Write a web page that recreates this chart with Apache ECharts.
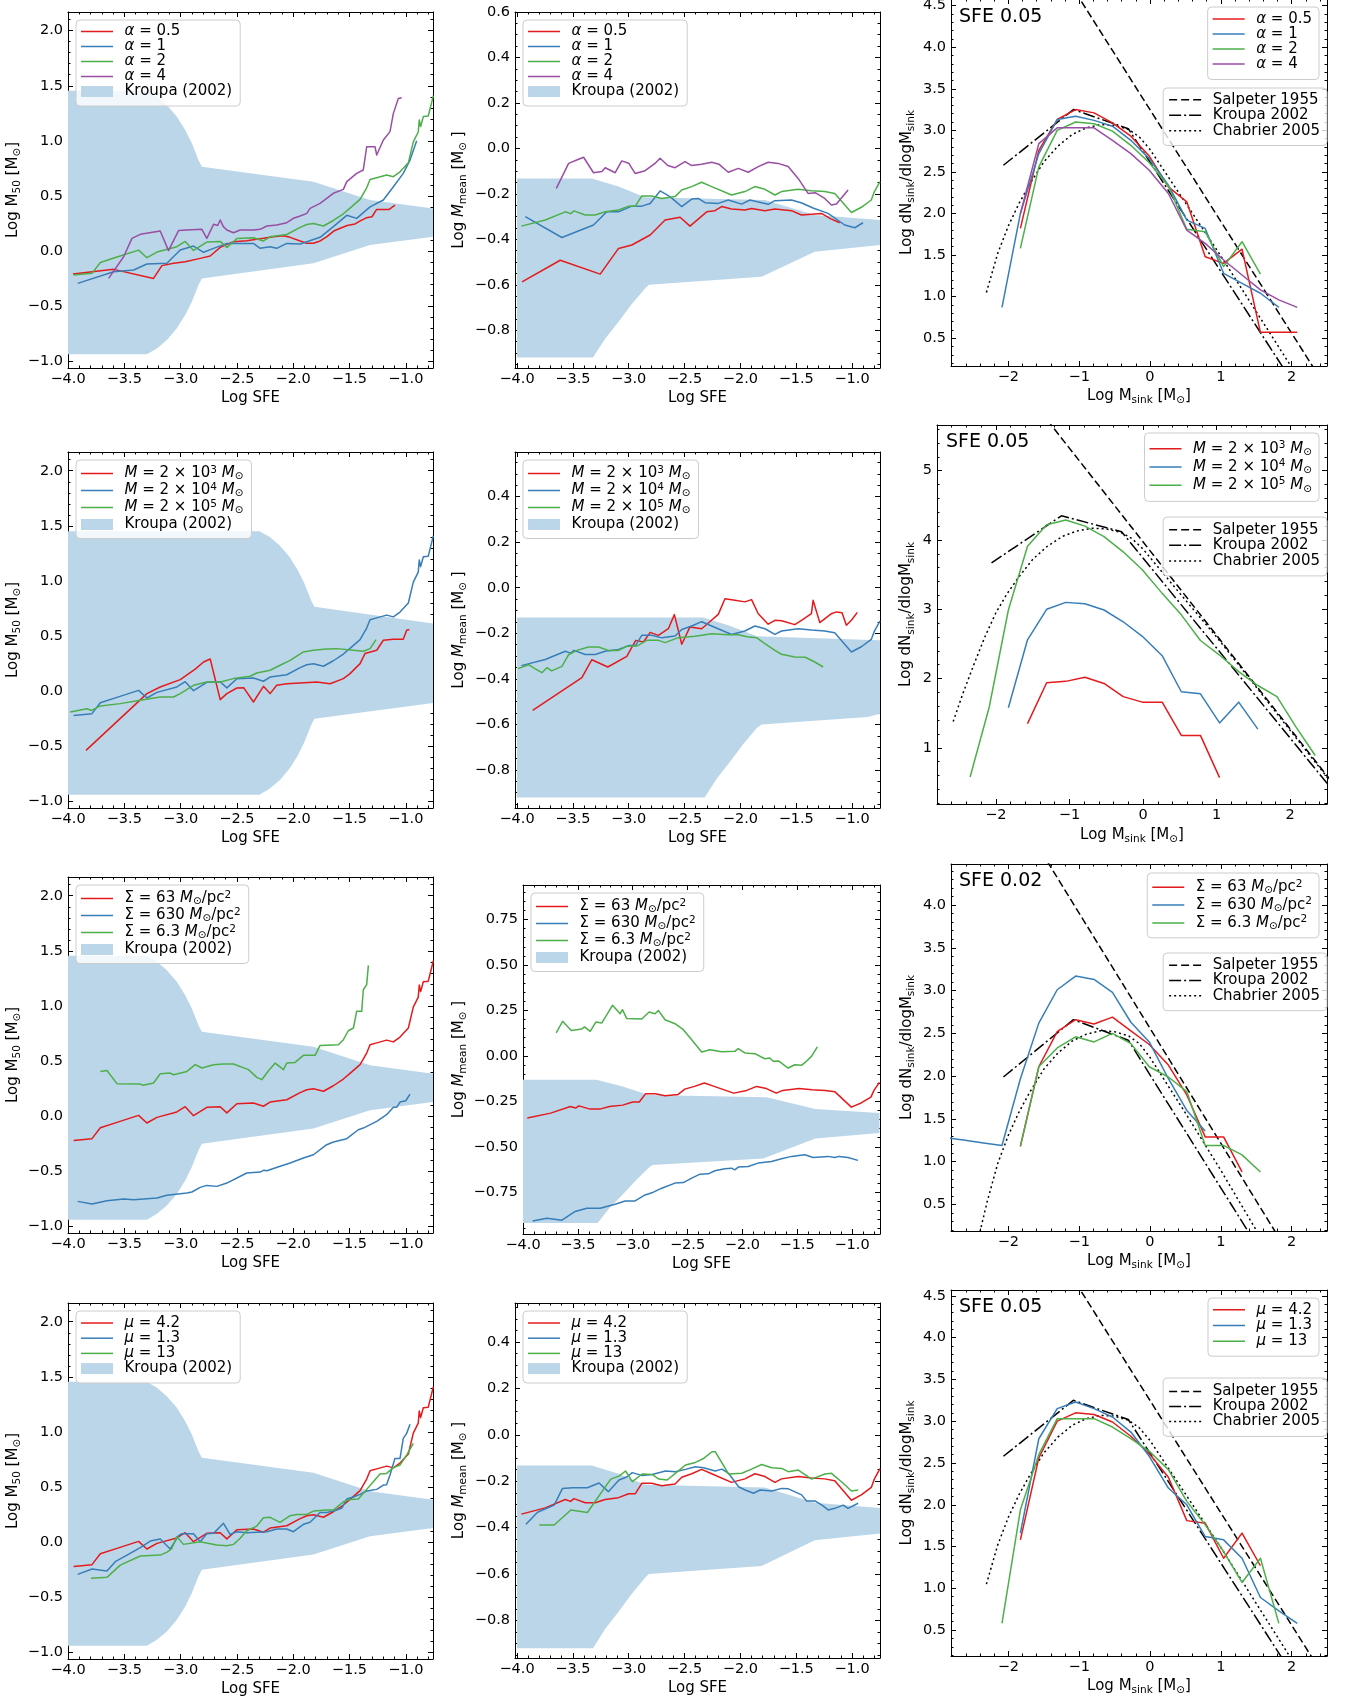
<!DOCTYPE html>
<html><head><meta charset="utf-8">
<script src="https://cdn.jsdelivr.net/npm/echarts@6.0.0/dist/echarts.min.js"></script>
<style>html,body{margin:0;padding:0;background:#fff;}#chart{width:1349px;height:1699px;}</style>
</head><body><div id="chart"></div>
<script>
const _ = null;
// ---------------- tick labels ----------------
const sfeTicks = [-4.0,-3.5,-3.0,-2.5,-2.0,-1.5,-1.0];
const m50Ticks = [-1.0,-0.5,0.0,0.5,1.0,1.5,2.0];
const meanTicks = [-0.8,-0.6,-0.4,-0.2,0.0,0.2,0.4,0.6];
const meanTicksQ = [-0.75,-0.5,-0.25,0.0,0.25,0.5,0.75];
const msinkTicks = [-2,-1,0,1,2];
const imfTicks = [0.5,1.0,1.5,2.0,2.5,3.0,3.5,4.0,4.5];
const imfTicksInt = [1,2,3,4,5];

// ---------------- Kroupa (2002) bands ----------------
const bandM50Up = [[-4.0,1.455],[-3.299,1.455],[-3.21,1.401],[-3.122,1.325],[-3.033,1.219],[-2.959,1.098],[-2.9,0.977],[-2.841,0.825],[-2.811,0.765],[-1.82,0.629],[-1.317,0.462],[-0.758,0.384]];
const bandM50Lo = [[-4.0,-0.94],[-3.299,-0.94],[-3.21,-0.886],[-3.122,-0.81],[-3.033,-0.704],[-2.959,-0.583],[-2.9,-0.462],[-2.841,-0.31],[-2.811,-0.25],[-1.82,-0.113],[-1.317,0.053],[-0.758,0.129]];
const bandM50UpB = [[-4.0,1.452],[-2.30,1.452],[-2.21,1.40],[-2.122,1.325],[-2.033,1.219],[-1.959,1.098],[-1.9,0.977],[-1.841,0.825],[-1.811,0.765],[-0.758,0.615]];
const bandM50LoB = [[-4.0,-0.94],[-2.30,-0.94],[-2.21,-0.886],[-2.122,-0.81],[-2.033,-0.704],[-1.959,-0.583],[-1.9,-0.462],[-1.841,-0.31],[-1.811,-0.25],[-0.758,-0.107]];
const bandMeanUp = [[-4.0,-0.132],[-3.33,-0.132],[-3.091,-0.168],[-2.853,-0.215],[-1.78,-0.227],[-1.334,-0.293],[-0.75,-0.315]];
const bandMeanLo = [[-4.0,-0.92],[-3.32,-0.92],[-3.211,-0.837],[-3.091,-0.763],[-2.972,-0.685],[-2.853,-0.616],[-2.82,-0.60],[-1.81,-0.565],[-1.334,-0.455],[-0.75,-0.425]];
const bandMeanUpB = [[-4.0,-0.131],[-2.332,-0.131],[-2.09,-0.168],[-1.85,-0.213],[-0.75,-0.23]];
const bandMeanLoB = [[-4.0,-0.921],[-2.32,-0.921],[-2.211,-0.837],[-2.091,-0.763],[-1.972,-0.685],[-1.853,-0.616],[-1.81,-0.60],[-0.86,-0.567],[-0.75,-0.553]];

// ---------------- M50 vs SFE ----------------
const fidM50 = [[-3.95,-0.22],[-3.787,-0.204],[-3.713,-0.105],[-3.565,-0.056],[-3.373,0.007],[-3.299,-0.062],[-3.21,-0.011],[-3.033,0.038],[-2.959,0.086],[-2.885,0.004],[-2.767,0.08],[-2.648,0.086],[-2.589,0.03],[-2.5,0.113],[-2.353,0.119],[-2.264,0.09],[-2.205,0.128],[-2.057,0.149],[-1.938,0.214],[-1.879,0.24],[-1.82,0.248],[-1.731,0.226],[-1.643,0.276],[-1.554,0.337],[-1.495,0.388],[-1.406,0.468],[-1.347,0.573],[-1.317,0.648],[-1.258,0.665],[-1.17,0.69],[-1.11,0.674],[-1.051,0.718],[-0.977,0.80],[-0.933,0.99],[-0.889,1.08],[-0.88,1.19],[-0.868,1.13],[-0.844,1.22],[-0.80,1.225],[-0.755,1.41]];
const m50A05 = [[-3.956,-0.21],[-3.595,-0.168],[-3.24,-0.25],[-3.166,-0.134],[-3.062,-0.113],[-2.959,-0.098],[-2.826,-0.068],[-2.737,-0.047],[-2.648,0.032],[-2.53,0.084],[-2.412,0.093],[-2.264,0.114],[-2.175,0.129],[-2.086,0.138],[-2.027,0.123],[-1.938,0.09],[-1.88,0.07],[-1.82,0.07],[-1.76,0.09],[-1.70,0.13],[-1.64,0.18],[-1.57,0.21],[-1.52,0.23],[-1.45,0.245],[-1.40,0.275],[-1.35,0.30],[-1.30,0.31],[-1.26,0.375],[-1.15,0.375],[-1.095,0.415]];
const m50A1 = [[-3.914,-0.295],[-3.595,-0.189],[-3.417,-0.174],[-3.299,-0.119],[-3.122,-0.113],[-3.003,0.008],[-2.885,0.044],[-2.796,-0.013],[-2.707,0.023],[-2.589,0.068],[-2.353,0.068],[-2.293,0.023],[-2.205,0.038],[-2.146,0.023],[-2.057,0.068],[-1.938,0.062],[-1.761,0.123],[-1.643,0.22],[-1.524,0.323],[-1.436,0.295],[-1.317,0.40],[-1.199,0.462],[-1.11,0.583],[-1.022,0.704],[-0.962,0.825],[-0.903,1.0]];
const m50A4 = [[-3.639,-0.25],[-3.506,-0.053],[-3.432,0.114],[-3.358,0.15],[-3.181,0.18],[-3.107,0.002],[-3.018,0.184],[-2.944,0.19],[-2.811,0.196],[-2.767,0.114],[-2.707,0.241],[-2.67,0.23],[-2.648,0.28],[-2.62,0.22],[-2.589,0.19],[-2.53,0.165],[-2.471,0.19],[-2.353,0.19],[-2.293,0.196],[-2.234,0.226],[-2.146,0.235],[-2.057,0.256],[-1.998,0.296],[-1.938,0.317],[-1.879,0.341],[-1.85,0.386],[-1.761,0.432],[-1.702,0.477],[-1.643,0.523],[-1.554,0.559],[-1.524,0.629],[-1.436,0.704],[-1.377,0.735],[-1.347,0.946],[-1.273,0.946],[-1.258,0.871],[-1.199,1.007],[-1.14,1.083],[-1.11,1.249],[-1.066,1.385],[-1.036,1.391]];
const m50M3 = [[-3.84,-0.537],[-3.299,-0.022],[-3.181,0.038],[-3.003,0.105],[-2.87,0.2],[-2.796,0.265],[-2.737,0.292],[-2.648,-0.077],[-2.589,-0.022],[-2.5,0.029],[-2.44,0.032],[-2.353,-0.098],[-2.264,0.044],[-2.205,-0.022],[-2.146,0.053],[-2.057,0.068],[-1.938,0.074],[-1.79,0.083],[-1.672,0.068],[-1.554,0.114],[-1.495,0.159],[-1.406,0.25],[-1.362,0.341],[-1.258,0.371],[-1.199,0.462],[-1.11,0.471],[-1.022,0.471],[-0.992,0.553],[-0.968,0.559]];
const m50M5 = [[-3.98,-0.189],[-3.831,-0.159],[-3.79,-0.175],[-3.713,-0.134],[-3.536,-0.113],[-3.358,-0.083],[-3.181,-0.053],[-3.062,-0.053],[-3.003,-0.022],[-2.885,0.053],[-2.767,0.084],[-2.648,0.084],[-2.53,0.114],[-2.382,0.135],[-2.323,0.165],[-2.205,0.19],[-2.116,0.235],[-2.027,0.28],[-1.909,0.356],[-1.82,0.371],[-1.702,0.383],[-1.613,0.386],[-1.465,0.371],[-1.377,0.362],[-1.317,0.386],[-1.264,0.468]];
const m50S630 = [[-3.914,-0.773],[-3.787,-0.797],[-3.654,-0.767],[-3.506,-0.752],[-3.417,-0.758],[-3.21,-0.743],[-3.122,-0.718],[-2.944,-0.697],[-2.9,-0.688],[-2.826,-0.646],[-2.767,-0.628],[-2.678,-0.637],[-2.589,-0.607],[-2.412,-0.516],[-2.293,-0.507],[-2.26,-0.49],[-2.234,-0.495],[-2.116,-0.455],[-2.027,-0.425],[-1.909,-0.38],[-1.82,-0.35],[-1.702,-0.259],[-1.643,-0.235],[-1.524,-0.204],[-1.421,-0.123],[-1.377,-0.108],[-1.258,-0.047],[-1.17,0.013],[-1.11,0.08],[-1.081,0.08],[-1.051,0.128],[-1.0,0.14],[-0.962,0.2]];
const m50S6 = [[-3.713,0.406],[-3.654,0.415],[-3.565,0.295],[-3.358,0.292],[-3.334,0.28],[-3.24,0.301],[-3.181,0.385],[-3.092,0.391],[-3.062,0.376],[-2.944,0.406],[-2.87,0.467],[-2.811,0.437],[-2.707,0.467],[-2.619,0.473],[-2.53,0.473],[-2.397,0.422],[-2.323,0.352],[-2.279,0.331],[-2.219,0.412],[-2.16,0.482],[-2.086,0.422],[-2.057,0.482],[-1.983,0.488],[-1.909,0.552],[-1.805,0.552],[-1.761,0.642],[-1.598,0.648],[-1.554,0.694],[-1.51,0.775],[-1.465,0.80],[-1.436,0.951],[-1.391,0.951],[-1.377,1.147],[-1.362,1.14],[-1.347,1.193],[-1.332,1.368]];
const m50Mu1p3 = [[-3.914,-0.292],[-3.787,-0.244],[-3.654,-0.262],[-3.58,-0.177],[-3.476,-0.117],[-3.358,-0.05],[-3.269,0.01],[-3.181,0.028],[-3.092,-0.062],[-3.018,0.059],[-2.988,0.077],[-2.885,0.077],[-2.826,0.004],[-2.767,0.077],[-2.707,0.08],[-2.619,0.171],[-2.56,0.071],[-2.5,0.095],[-2.412,0.086],[-2.234,0.095],[-2.146,0.119],[-2.057,0.119],[-1.998,0.095],[-1.909,0.162],[-1.85,0.18],[-1.761,0.27],[-1.702,0.27],[-1.643,0.282],[-1.569,0.307],[-1.524,0.391],[-1.465,0.41],[-1.406,0.434],[-1.347,0.464],[-1.258,0.479],[-1.199,0.518],[-1.17,0.52],[-1.14,0.609],[-1.096,0.76],[-1.051,0.76],[-1.022,0.942],[-0.992,0.987],[-0.962,1.069]];
const m50Mu13 = [[-3.796,-0.328],[-3.654,-0.319],[-3.536,-0.208],[-3.358,-0.126],[-3.181,-0.117],[-3.12,-0.09],[-3.08,-0.06],[-3.033,0.05],[-2.974,-0.02],[-2.826,0.004],[-2.678,-0.026],[-2.589,-0.032],[-2.53,-0.02],[-2.471,0.035],[-2.412,0.104],[-2.323,0.146],[-2.264,0.222],[-2.205,0.225],[-2.116,0.18],[-2.027,0.24],[-1.968,0.252],[-1.879,0.252],[-1.82,0.282],[-1.702,0.291],[-1.643,0.291],[-1.554,0.367],[-1.495,0.388],[-1.421,0.391],[-1.347,0.479],[-1.288,0.549],[-1.229,0.618],[-1.17,0.624],[-1.11,0.676],[-1.051,0.70],[-0.992,0.79],[-0.933,0.896]];

// ---------------- Mmean vs SFE ----------------
const fidMean = [[-3.961,-0.342],[-3.747,-0.315],[-3.568,-0.279],[-3.52,-0.287],[-3.49,-0.275],[-3.389,-0.293],[-3.3,-0.293],[-3.211,-0.279],[-3.091,-0.271],[-3.0,-0.254],[-2.94,-0.254],[-2.883,-0.209],[-2.794,-0.209],[-2.704,-0.22],[-2.585,-0.212],[-2.525,-0.183],[-2.436,-0.168],[-2.347,-0.149],[-2.257,-0.168],[-2.079,-0.205],[-1.96,-0.19],[-1.87,-0.168],[-1.78,-0.18],[-1.691,-0.205],[-1.632,-0.19],[-1.483,-0.18],[-1.364,-0.186],[-1.245,-0.19],[-1.155,-0.198],[-1.006,-0.282],[-0.917,-0.259],[-0.828,-0.227],[-0.8,-0.19],[-0.75,-0.146]];
const meanA05 = [[-3.955,-0.587],[-3.613,-0.492],[-3.255,-0.553],[-3.091,-0.44],[-2.972,-0.425],[-2.808,-0.381],[-2.674,-0.315],[-2.54,-0.303],[-2.451,-0.342],[-2.302,-0.279],[-2.228,-0.274],[-2.168,-0.256],[-2.079,-0.267],[-1.96,-0.271],[-1.90,-0.264],[-1.781,-0.274],[-1.691,-0.267],[-1.542,-0.274],[-1.453,-0.293],[-1.274,-0.286],[-1.19,-0.31],[-1.111,-0.327]];
const meanA1 = [[-3.926,-0.30],[-3.598,-0.392],[-3.315,-0.337],[-3.196,-0.279],[-3.091,-0.279],[-2.972,-0.254],[-2.883,-0.254],[-2.808,-0.242],[-2.719,-0.187],[-2.63,-0.212],[-2.525,-0.256],[-2.436,-0.223],[-2.377,-0.22],[-2.317,-0.239],[-2.198,-0.242],[-2.108,-0.227],[-1.989,-0.245],[-1.915,-0.227],[-1.751,-0.246],[-1.691,-0.23],[-1.542,-0.227],[-1.45,-0.24],[-1.35,-0.262],[-1.215,-0.286],[-1.066,-0.337],[-0.976,-0.349],[-0.902,-0.327]];
const meanA4 = [[-3.648,-0.176],[-3.538,-0.066],[-3.449,-0.048],[-3.404,-0.039],[-3.315,-0.107],[-3.24,-0.102],[-3.21,-0.085],[-3.121,-0.107],[-3.062,-0.055],[-3.0,-0.065],[-2.943,-0.11],[-2.853,-0.098],[-2.764,-0.066],[-2.719,-0.043],[-2.65,-0.075],[-2.585,-0.085],[-2.496,-0.058],[-2.44,-0.075],[-2.347,-0.07],[-2.257,-0.061],[-2.19,-0.07],[-2.108,-0.105],[-2.019,-0.088],[-1.93,-0.105],[-1.84,-0.08],[-1.751,-0.061],[-1.662,-0.066],[-1.572,-0.08],[-1.483,-0.132],[-1.394,-0.198],[-1.33,-0.195],[-1.245,-0.22],[-1.185,-0.249],[-1.14,-0.245],[-1.036,-0.183]];
const meanM3 = [[-3.86,-0.538],[-3.419,-0.395],[-3.33,-0.316],[-3.187,-0.348],[-3.017,-0.301],[-2.937,-0.231],[-2.868,-0.238],[-2.808,-0.196],[-2.734,-0.209],[-2.645,-0.18],[-2.591,-0.118],[-2.525,-0.248],[-2.451,-0.172],[-2.347,-0.18],[-2.287,-0.155],[-2.198,-0.117],[-2.138,-0.048],[-2.049,-0.055],[-1.959,-0.062],[-1.9,-0.052],[-1.84,-0.114],[-1.751,-0.16],[-1.691,-0.143],[-1.63,-0.145],[-1.513,-0.162],[-1.453,-0.143],[-1.364,-0.114],[-1.349,-0.055],[-1.289,-0.153],[-1.185,-0.114],[-1.14,-0.106],[-1.09,-0.11],[-1.051,-0.165],[-1.006,-0.143],[-0.953,-0.108]];
const meanM5 = [[-3.991,-0.355],[-3.896,-0.338],[-3.84,-0.355],[-3.777,-0.373],[-3.732,-0.351],[-3.69,-0.365],[-3.598,-0.345],[-3.538,-0.294],[-3.464,-0.275],[-3.36,-0.26],[-3.27,-0.26],[-3.181,-0.275],[-3.091,-0.275],[-3.017,-0.257],[-2.928,-0.256],[-2.838,-0.231],[-2.734,-0.231],[-2.674,-0.241],[-2.555,-0.219],[-2.406,-0.213],[-2.257,-0.202],[-2.108,-0.206],[-2.019,-0.206],[-1.94,-0.215],[-1.855,-0.219],[-1.781,-0.245],[-1.691,-0.275],[-1.632,-0.292],[-1.513,-0.304],[-1.42,-0.305],[-1.334,-0.326],[-1.259,-0.348]];
const meanS630 = [[-3.912,-0.908],[-3.782,-0.893],[-3.645,-0.904],[-3.524,-0.856],[-3.418,-0.838],[-3.296,-0.838],[-3.16,-0.816],[-3.069,-0.798],[-2.978,-0.798],[-2.887,-0.765],[-2.811,-0.75],[-2.735,-0.728],[-2.614,-0.70],[-2.538,-0.697],[-2.462,-0.673],[-2.386,-0.651],[-2.311,-0.649],[-2.25,-0.632],[-2.159,-0.621],[-2.098,-0.618],[-2.068,-0.627],[-2.038,-0.612],[-1.947,-0.609],[-1.856,-0.59],[-1.734,-0.581],[-1.643,-0.566],[-1.552,-0.553],[-1.431,-0.544],[-1.355,-0.559],[-1.219,-0.553],[-1.158,-0.559],[-1.12,-0.553],[-1.037,-0.559],[-0.946,-0.575]];
const meanS6 = [[-3.697,0.126],[-3.639,0.19],[-3.56,0.139],[-3.463,0.148],[-3.439,0.159],[-3.387,0.135],[-3.336,0.186],[-3.281,0.181],[-3.184,0.278],[-3.114,0.232],[-3.093,0.254],[-3.054,0.205],[-2.917,0.203],[-2.85,0.241],[-2.796,0.232],[-2.766,0.25],[-2.705,0.199],[-2.614,0.177],[-2.538,0.144],[-2.462,0.089],[-2.371,0.021],[-2.295,0.034],[-2.189,0.023],[-2.068,0.025],[-2.038,0.04],[-1.977,0.016],[-1.886,0.012],[-1.795,-0.016],[-1.75,-0.012],[-1.719,-0.03],[-1.67,-0.028],[-1.583,-0.067],[-1.522,-0.049],[-1.461,-0.052],[-1.416,-0.03],[-1.37,-0.003],[-1.316,0.049]];
const meanMu1p3 = [[-3.92,-0.386],[-3.816,-0.334],[-3.667,-0.303],[-3.593,-0.231],[-3.503,-0.228],[-3.37,-0.228],[-3.266,-0.208],[-3.182,-0.245],[-3.087,-0.195],[-3.013,-0.181],[-2.968,-0.163],[-2.879,-0.176],[-2.79,-0.171],[-2.671,-0.156],[-2.582,-0.159],[-2.492,-0.149],[-2.403,-0.138],[-2.329,-0.142],[-2.225,-0.156],[-2.165,-0.148],[-2.106,-0.166],[-2.016,-0.224],[-1.957,-0.238],[-1.883,-0.252],[-1.823,-0.238],[-1.719,-0.242],[-1.63,-0.231],[-1.57,-0.233],[-1.452,-0.259],[-1.407,-0.285],[-1.333,-0.285],[-1.273,-0.302],[-1.214,-0.324],[-1.154,-0.317],[-1.08,-0.303],[-1.036,-0.317],[-0.946,-0.295]];
const meanMu13 = [[-3.801,-0.389],[-3.667,-0.389],[-3.518,-0.324],[-3.37,-0.335],[-3.161,-0.191],[-3.087,-0.178],[-3.028,-0.156],[-2.968,-0.202],[-2.879,-0.169],[-2.79,-0.171],[-2.73,-0.191],[-2.656,-0.195],[-2.582,-0.166],[-2.492,-0.13],[-2.403,-0.119],[-2.329,-0.102],[-2.254,-0.073],[-2.225,-0.073],[-2.106,-0.169],[-1.987,-0.166],[-1.9,-0.148],[-1.809,-0.128],[-1.719,-0.142],[-1.63,-0.145],[-1.571,-0.159],[-1.481,-0.152],[-1.362,-0.191],[-1.244,-0.169],[-1.184,-0.166],[-1.08,-0.209],[-1.006,-0.242],[-0.946,-0.238]];

// ---------------- sink mass functions ----------------
const imfBins = [-2.87,-2.61,-2.35,-2.09,-1.83,-1.57,-1.31,-1.05,-0.79,-0.53,-0.27,-0.01,0.26,0.52,0.78,1.04,1.30,1.56,1.82,2.08,2.34];
const fidIMF   = [_,_,_,_,1.58,2.56,3.00,3.10,3.08,2.99,2.82,2.61,2.33,1.81,1.78,1.36,1.66,1.27,_,_,_];
const imfA05   = [_,_,_,_,1.82,2.76,3.13,3.25,3.21,3.09,2.93,2.69,2.32,2.14,1.48,1.40,1.57,0.57,0.57,0.57,_];
const imfA1    = [_,_,_,0.87,2.00,2.72,3.13,3.17,3.12,3.05,2.88,2.66,2.34,1.92,1.82,1.28,1.16,1.04,0.87,_,_];
const imfA4    = [_,_,_,_,2.00,2.84,3.03,3.03,3.03,2.88,2.72,2.52,2.24,1.80,1.64,1.44,1.26,1.08,0.96,0.87,_];
const imfM3    = [_,_,_,_,_,1.35,1.94,1.96,2.02,1.93,1.74,1.66,1.66,1.18,1.18,0.57,_,_,_,_,_];
const imfM5    = [_,_,0.58,1.59,2.99,3.91,4.22,4.29,4.20,4.05,3.83,3.57,3.23,2.92,2.55,2.34,2.10,1.90,1.74,1.30,0.89];
const imfS63   = [_,_,_,_,1.18,2.11,2.52,2.66,2.61,2.69,2.53,2.37,2.13,1.78,1.29,1.29,0.88,_,_,_,_];
const imfS630  = [1.28,1.25,1.22,1.19,1.97,2.62,3.01,3.17,3.13,2.98,2.63,2.40,1.97,1.60,1.36,_,_,_,_,_,_];
const imfS6    = [_,_,_,_,1.18,2.11,2.33,2.46,2.40,2.50,2.38,2.11,1.99,1.82,1.19,1.19,1.08,0.88,_,_,_];
const imfMu1p3 = [_,_,_,_,1.66,2.79,3.15,3.23,3.15,3.05,2.87,2.58,2.20,2.00,1.62,1.58,1.36,0.89,0.73,0.58,_];
const imfMu13  = [_,_,_,0.58,1.94,2.60,3.03,3.03,3.03,2.93,2.79,2.64,2.42,2.04,1.76,1.44,1.07,1.36,0.58,_,_];

// reference IMFs
const salpA = [[-1.05,4.66],[2.32,0.13]];
const kroA  = [[-2.07,2.58],[-1.082,3.25],[-0.306,3.02],[1.9,0.12]];
const chabA = [[-2.31,1.05],[-2.15,1.52],[-2.0,1.85],[-1.85,2.12],[-1.7,2.35],[-1.5,2.62],[-1.3,2.81],[-1.1,2.95],[-0.9,3.03],[-0.7,3.07],[-0.5,3.06],[-0.3,3.01],[-0.15,2.92],[0.0,2.77],[0.5,2.13],[1.0,1.49],[1.5,0.82],[2.0,0.15],[2.1,0.01]];
const salpM = [[-1.3,5.73],[2.55,0.53]];
const kroM  = [[-2.059,3.67],[-1.108,4.35],[-0.292,4.12],[2.55,0.425]];
const chabM = [[-2.58,1.38],[-2.45,1.78],[-2.3,2.2],[-2.15,2.6],[-2.0,2.95],[-1.85,3.22],[-1.7,3.45],[-1.5,3.72],[-1.3,3.91],[-1.1,4.05],[-0.9,4.13],[-0.7,4.17],[-0.5,4.16],[-0.3,4.11],[-0.15,4.02],[0.0,3.87],[0.5,3.23],[1.0,2.6],[1.5,1.93],[2.0,1.25],[2.5,0.58],[2.6,0.44]];
const salpS = [[-1.45,4.51],[1.8,0.14]];
const kroS  = [[-2.07,1.99],[-1.082,2.66],[-0.306,2.42],[1.42,0.14]];
const chabS = [[-2.5,-0.1],[-2.45,0.01],[-2.3,0.53],[-2.15,0.98],[-2.0,1.31],[-1.85,1.58],[-1.7,1.81],[-1.5,2.08],[-1.3,2.27],[-1.1,2.41],[-0.9,2.49],[-0.7,2.53],[-0.5,2.52],[-0.3,2.47],[-0.15,2.38],[0.0,2.22],[0.5,1.57],[1.0,0.9],[1.5,0.2],[1.6,0.06]];

// ---------------- styling ----------------
const FONT = 'DejaVu Sans';
const COL = {red:'#e41a1c', blue:'#377eb8', green:'#4daf4a', purple:'#984ea3', band:'#bcd6e9', k:'#000000'};
const DASH = {salp:[7.5,3.5], kro:[12,3,2,3], chab:[2,3]};
// legend sample strokes drawn as thin filled paths (32 px long, 1.5 px thick)
const ICON = {
  solid:'path://M0,0H32V1.5H0Z',
  salp:'path://M0,0H8V1.5H0Z M12,0H20V1.5H12Z M24,0H32V1.5H24Z',
  kro:'path://M0,0H12V1.5H0Z M15,0H17V1.5H15Z M20,0H32V1.5H20Z',
  chab:'path://M0,0H2V1.5H0Z M5,0H7V1.5H5Z M10,0H12V1.5H10Z M15,0H17V1.5H15Z M20,0H22V1.5H20Z M25,0H27V1.5H25Z M30,0H32V1.5H30Z',
  band:'rect'
};
const ICON_OF = {Salp:'salp', Kr02:'kro', Chab:'chab', Kroupa:'band'};

function richSet(L, fs) {
  const ss = fs * 0.7;
  const sh = Math.max(2, L - 10);
  return {
    n:{fontSize:fs, lineHeight:L, fontFamily:FONT, color:'#000', verticalAlign:'middle'},
    i:{fontSize:fs, lineHeight:L, fontFamily:FONT, fontStyle:'italic', color:'#000', verticalAlign:'middle'},
    s:{fontSize:ss, lineHeight:sh, fontFamily:FONT, color:'#000', verticalAlign:'bottom'},
    p:{fontSize:ss, lineHeight:sh, fontFamily:FONT, color:'#000', verticalAlign:'top'},
    g:{width:6.5, fontSize:fs, lineHeight:L}
  };
}
const LBL = {
  'a0.5':'{i|α}{n| = 0.5}', 'a1':'{i|α}{n| = 1}', 'a2':'{i|α}{n| = 2}', 'a4':'{i|α}{n| = 4}',
  'M3':'{i|M}{n| = 2 × 10}{p|3}{i| M}{s|⊙}', 'M4':'{i|M}{n| = 2 × 10}{p|4}{i| M}{s|⊙}', 'M5':'{i|M}{n| = 2 × 10}{p|5}{i| M}{s|⊙}',
  'S63':'{n|Σ = 63 }{i|M}{s|⊙}{n|/pc}{p|2}', 'S630':'{n|Σ = 630 }{i|M}{s|⊙}{n|/pc}{p|2}', 'S6.3':'{n|Σ = 6.3 }{i|M}{s|⊙}{n|/pc}{p|2}',
  'mu4.2':'{i|μ}{n| = 4.2}', 'mu1.3':'{i|μ}{n| = 1.3}', 'mu13':'{i|μ}{n| = 13}',
  'Kroupa':'{n|Kroupa (2002)}', 'Salp':'{n|Salpeter 1955}', 'Kr02':'{n|Kroupa 2002}', 'Chab':'{n|Chabrier 2005}'
};
const NAMES = {
  sfe:'{n|Log SFE}',
  m50:'{n|Log M}{s|50}{n| [M}{s|⊙}{n|]}',
  mean:'{n|Log }{i|M}{s|mean}{n| [M}{s|⊙}{n| ]}',
  dn:'{n|Log dN}{s|sink}{n|/dlogM}{s|sink}',
  msink:'{n|Log M}{s|sink}{n| [M}{s|⊙}{n|]}'
};

// ---------------- panel layout ----------------
const PANELS = [
  {g:[68,12,365,356],  x:[-4.0,-0.758], y:[-1.064,2.17], xt:sfeTicks, xm:0.1, xd:1, yt:m50Ticks, ym:0.1, yd:1, xn:'sfe', yn:'m50', xg:20, yg:45},
  {g:[515,12,365,356], x:[-4.018,-0.75], y:[-0.966,0.6], xt:sfeTicks, xm:0.1, xd:1, yt:meanTicks, ym:0.05, yd:1, xn:'sfe', yn:'mean', xg:20, yg:46},
  {g:[951,-1,376,367], x:[-2.81,2.50], y:[0.165,4.58], xt:msinkTicks, xm:0.2, xd:0, yt:imfTicks, ym:0.1, yd:1, xn:'msink', yn:'dn', xg:20, yg:34},
  {g:[68,452,365,356], x:[-4.0,-0.758], y:[-1.06,2.17], xt:sfeTicks, xm:0.1, xd:1, yt:m50Ticks, ym:0.1, yd:1, xn:'sfe', yn:'m50', xg:20, yg:45},
  {g:[515,452,365,356], x:[-4.018,-0.75], y:[-0.967,0.596], xt:sfeTicks, xm:0.1, xd:1, yt:meanTicks, ym:0.05, yd:1, xn:'sfe', yn:'mean', xg:20, yg:46},
  {g:[937,425,390,379], x:[-2.80,2.50], y:[0.19,5.66], xt:msinkTicks, xm:0.2, xd:0, yt:imfTicksInt, ym:0.2, yd:0, xn:'msink', yn:'dn', xg:21, yg:20.5},
  {g:[68,877,365,356], x:[-4.0,-0.758], y:[-1.06,2.17], xt:sfeTicks, xm:0.1, xd:1, yt:m50Ticks, ym:0.1, yd:1, xn:'sfe', yn:'m50', xg:20, yg:45},
  {g:[523,885,357,349], x:[-4.0,-0.745], y:[-0.98,0.94], xt:sfeTicks, xm:0.1, xd:1, yt:meanTicksQ, ym:0.05, yd:2, xn:'sfe', yn:'mean', xg:20, yg:54},
  {g:[951,864,376,367], x:[-2.81,2.50], y:[0.19,4.48], xt:msinkTicks, xm:0.2, xd:0, yt:imfTicks, ym:0.1, yd:1, xn:'msink', yn:'dn', xg:20, yg:34},
  {g:[68,1303,365,356], x:[-4.0,-0.758], y:[-1.06,2.17], xt:sfeTicks, xm:0.1, xd:1, yt:m50Ticks, ym:0.1, yd:1, xn:'sfe', yn:'m50', xg:20, yg:45},
  {g:[515,1303,365,355], x:[-4.018,-0.75], y:[-0.962,0.568], xt:sfeTicks, xm:0.1, xd:1, yt:meanTicks, ym:0.05, yd:1, xn:'sfe', yn:'mean', xg:20, yg:46},
  {g:[951,1290,376,366], x:[-2.81,2.50], y:[0.19,4.57], xt:msinkTicks, xm:0.2, xd:0, yt:imfTicks, ym:0.1, yd:1, xn:'msink', yn:'dn', xg:20, yg:34}
];

const pairs = (bins, vals) => bins.map((b, i) => [b, vals[i]]).filter(p => p[1] !== null);
const B = (up, lo) => ({kind:'band', up, lo});
const Ln = (key, data, color) => ({kind:'line', key, data, color});
const Rf = (key, data, dash) => ({kind:'line', key, data, color:COL.k, dash});

const SERIES = [
  [B(bandM50Up,bandM50Lo), Ln('a0.5',m50A05,COL.red), Ln('a1',m50A1,COL.blue), Ln('a2',fidM50,COL.green), Ln('a4',m50A4,COL.purple)],
  [B(bandMeanUp,bandMeanLo), Ln('a0.5',meanA05,COL.red), Ln('a1',meanA1,COL.blue), Ln('a2',fidMean,COL.green), Ln('a4',meanA4,COL.purple)],
  [Rf('Salp',salpA,DASH.salp), Rf('Kr02',kroA,DASH.kro), Rf('Chab',chabA,DASH.chab),
   Ln('a0.5',pairs(imfBins,imfA05),COL.red), Ln('a1',pairs(imfBins,imfA1),COL.blue), Ln('a2',pairs(imfBins,fidIMF),COL.green), Ln('a4',pairs(imfBins,imfA4),COL.purple)],
  [B(bandM50UpB,bandM50LoB), Ln('M3',m50M3,COL.red), Ln('M4',fidM50,COL.blue), Ln('M5',m50M5,COL.green)],
  [B(bandMeanUpB,bandMeanLoB), Ln('M3',meanM3,COL.red), Ln('M4',fidMean,COL.blue), Ln('M5',meanM5,COL.green)],
  [Rf('Salp',salpM,DASH.salp), Rf('Kr02',kroM,DASH.kro), Rf('Chab',chabM,DASH.chab),
   Ln('M3',pairs(imfBins,imfM3),COL.red), Ln('M4',pairs(imfBins,fidIMF),COL.blue), Ln('M5',pairs(imfBins,imfM5),COL.green)],
  [B(bandM50Up,bandM50Lo), Ln('S63',fidM50,COL.red), Ln('S630',m50S630,COL.blue), Ln('S6.3',m50S6,COL.green)],
  [B(bandMeanUp,bandMeanLo), Ln('S63',fidMean,COL.red), Ln('S630',meanS630,COL.blue), Ln('S6.3',meanS6,COL.green)],
  [Rf('Salp',salpS,DASH.salp), Rf('Kr02',kroS,DASH.kro), Rf('Chab',chabS,DASH.chab),
   Ln('S63',pairs(imfBins,imfS63),COL.red), Ln('S630',pairs(imfBins,imfS630),COL.blue), Ln('S6.3',pairs(imfBins,imfS6),COL.green)],
  [B(bandM50Up,bandM50Lo), Ln('mu4.2',fidM50,COL.red), Ln('mu1.3',m50Mu1p3,COL.blue), Ln('mu13',m50Mu13,COL.green)],
  [B(bandMeanUp,bandMeanLo), Ln('mu4.2',fidMean,COL.red), Ln('mu1.3',meanMu1p3,COL.blue), Ln('mu13',meanMu13,COL.green)],
  [Rf('Salp',salpA,DASH.salp), Rf('Kr02',kroA,DASH.kro), Rf('Chab',chabA,DASH.chab),
   Ln('mu4.2',pairs(imfBins,fidIMF),COL.red), Ln('mu1.3',pairs(imfBins,imfMu1p3),COL.blue), Ln('mu13',pairs(imfBins,imfMu13),COL.green)]
];

const LEGENDS = [
  {left:76, top:20, L:15, pad:[4,8,7,5], keys:['a0.5','a1','a2','a4','Kroupa']},
  {left:523, top:20, L:15, pad:[4,8,7,5], keys:['a0.5','a1','a2','a4','Kroupa']},
  {right:30, top:7, L:15, pad:[4.5,7,8,5], keys:['a0.5','a1','a2','a4']},
  {right:22, top:88, L:15.5, pad:[4,7,7,6], keys:['Salp','Kr02','Chab']},
  {left:76, top:460, L:17, pad:[5,8,5.5,5], keys:['M3','M4','M5','Kroupa']},
  {left:523, top:460, L:17, pad:[5,8,5.5,5], keys:['M3','M4','M5','Kroupa']},
  {right:30, top:433, L:18.3, pad:[6.5,7,7,5], keys:['M3','M4','M5']},
  {right:22, top:517, L:15.7, pad:[4.8,7,7,6], keys:['Salp','Kr02','Chab']},
  {left:76, top:885, L:17, pad:[5,8,5.5,5], keys:['S63','S630','S6.3','Kroupa']},
  {left:531, top:893, L:17, pad:[5,8,5.5,5], keys:['S63','S630','S6.3','Kroupa']},
  {right:30, top:873, L:17.8, pad:[5.4,7,6,5], keys:['S63','S630','S6.3']},
  {right:22, top:953, L:15.2, pad:[4.7,7,7.4,6], keys:['Salp','Kr02','Chab']},
  {left:76, top:1311, L:15.2, pad:[4.4,8,6.8,5], keys:['mu4.2','mu1.3','mu13','Kroupa']},
  {left:523, top:1311, L:15.2, pad:[4.4,8,6.8,5], keys:['mu4.2','mu1.3','mu13','Kroupa']},
  {right:30, top:1298, L:15.8, pad:[3.8,7,7,5], keys:['mu4.2','mu1.3','mu13']},
  {right:22, top:1378, L:15, pad:[5.9,7,7.5,6], keys:['Salp','Kr02','Chab']}
];

const SFE_TEXT = [
  {text:'SFE 0.05', left:959, top:8},
  {text:'SFE 0.05', left:946, top:433},
  {text:'SFE 0.02', left:959, top:872},
  {text:'SFE 0.05', left:959, top:1298}
];

// ---------------- build ----------------
function fmt(d) {
  return v => {
    let s = Number(v).toFixed(d);
    if (/^-0(\.0+)?$/.test(s)) s = s.slice(1);
    return s.replace('-', '\u2212');
  };
}
const inRange = (arr, r) => arr.filter(v => v >= r[0] - 1e-9 && v <= r[1] + 1e-9);
function minors(r, step) {
  const out = [];
  const k0 = Math.ceil(r[0] / step - 1e-9), k1 = Math.floor(r[1] / step + 1e-9);
  for (let k = k0; k <= k1; k++) out.push(+(k * step).toFixed(6));
  return out;
}

const grids = [], xAxes = [], yAxes = [], series = [];
const nameStyle = {fontFamily:FONT, fontSize:15, color:'#000', rich:richSet(20, 15)};
const tk = (vals, len) => ({show:true, inside:true, length:len, customValues:vals, lineStyle:{color:'#000', width:1}});
const ln = show => ({show, onZero:false, lineStyle:{color:'#000', width:1}});

PANELS.forEach((p, gi) => {
  grids.push({left:p.g[0], top:p.g[1], width:p.g[2], height:p.g[3], containLabel:false, outerBoundsMode:'none', show:false});
  const xMaj = inRange(p.xt, p.x), yMaj = inRange(p.yt, p.y);
  const xMin = minors(p.x, p.xm), yMin = minors(p.y, p.ym);
  const cx = {gridIndex:gi, type:'value', min:p.x[0], max:p.x[1], splitLine:{show:false}, axisPointer:{show:false}};
  const cy = {gridIndex:gi, type:'value', min:p.y[0], max:p.y[1], splitLine:{show:false}, axisPointer:{show:false}};
  xAxes.push(Object.assign({}, cx, {position:'bottom', axisLine:ln(true), axisTick:tk(xMaj,5),
    axisLabel:{show:true, customValues:xMaj, formatter:fmt(p.xd), margin:3.5, color:'#000', fontSize:14.5, fontFamily:FONT},
    name:NAMES[p.xn], nameLocation:'middle', nameGap:p.xg, nameMoveOverlap:false, nameTextStyle:nameStyle}));
  xAxes.push(Object.assign({}, cx, {position:'bottom', axisLine:ln(false), axisTick:tk(xMin,2.5), axisLabel:{show:false}}));
  xAxes.push(Object.assign({}, cx, {position:'top', axisLine:ln(true), axisTick:tk(xMaj,5), axisLabel:{show:false}}));
  xAxes.push(Object.assign({}, cx, {position:'top', axisLine:ln(false), axisTick:tk(xMin,2.5), axisLabel:{show:false}}));
  yAxes.push(Object.assign({}, cy, {position:'left', axisLine:ln(true), axisTick:tk(yMaj,5),
    axisLabel:{show:true, customValues:yMaj, formatter:fmt(p.yd), margin:5, color:'#000', fontSize:14.5, fontFamily:FONT},
    name:NAMES[p.yn], nameLocation:'middle', nameRotate:90, nameGap:p.yg, nameMoveOverlap:false, nameTextStyle:nameStyle}));
  yAxes.push(Object.assign({}, cy, {position:'left', axisLine:ln(false), axisTick:tk(yMin,2.5), axisLabel:{show:false}}));
  yAxes.push(Object.assign({}, cy, {position:'right', axisLine:ln(true), axisTick:tk(yMaj,5), axisLabel:{show:false}}));
  yAxes.push(Object.assign({}, cy, {position:'right', axisLine:ln(false), axisTick:tk(yMin,2.5), axisLabel:{show:false}}));

  SERIES[gi].forEach(s => {
    if (s.kind === 'band') {
      const poly = s.up.concat(s.lo.slice().reverse());
      series.push({type:'custom', name:'Kroupa', xAxisIndex:4*gi, yAxisIndex:4*gi, data:poly, z:1, silent:true, clip:true,
        itemStyle:{color:COL.band}, encode:{x:0, y:1},
        renderItem:(params, api) => params.dataIndex === 0
          ? {type:'polygon', shape:{points: poly.map(pt => api.coord(pt))}, style:{fill:COL.band}}
          : null});
    } else {
      series.push({type:'line', name:s.key, xAxisIndex:4*gi, yAxisIndex:4*gi, data:s.data, symbol:'none', showSymbol:false,
        clip:true, silent:true, z:3, animation:false,
        lineStyle:{color:s.color, width:1.5, type:s.dash || 'solid', join:'round'}, itemStyle:{color:s.color}});
    }
  });
});

const legends = LEGENDS.map(lg => {
  const o = {orient:'vertical', top:lg.top, padding:lg.pad, itemWidth:32, itemHeight:11, itemGap:0,
    symbolKeepAspect:true,
    backgroundColor:'rgba(255,255,255,0.8)', borderColor:'#cccccc', borderWidth:1, borderRadius:4,
    selectedMode:false, z:10,
    data: lg.keys.map(k => ({name:k, icon:ICON[ICON_OF[k] || 'solid'], itemStyle:{borderWidth:0}})),
    formatter: n => '{g| }' + LBL[n],
    textStyle:{fontFamily:FONT, fontSize:15, lineHeight:lg.L, color:'#000', rich:richSet(lg.L, 15)}};
  if (lg.left !== undefined) o.left = lg.left; else o.right = lg.right;
  return o;
});

const titles = SFE_TEXT.map(t => ({text:t.text, left:t.left, top:t.top, padding:0,
  textStyle:{fontFamily:FONT, fontSize:19, fontWeight:'normal', color:'#000'}}));

const chart = echarts.init(document.getElementById('chart'), null, {renderer:'canvas'});
chart.setOption({
  animation:false,
  backgroundColor:'#ffffff',
  title:titles,
  legend:legends,
  grid:grids,
  xAxis:xAxes,
  yAxis:yAxes,
  series:series
});
</script></body></html>
